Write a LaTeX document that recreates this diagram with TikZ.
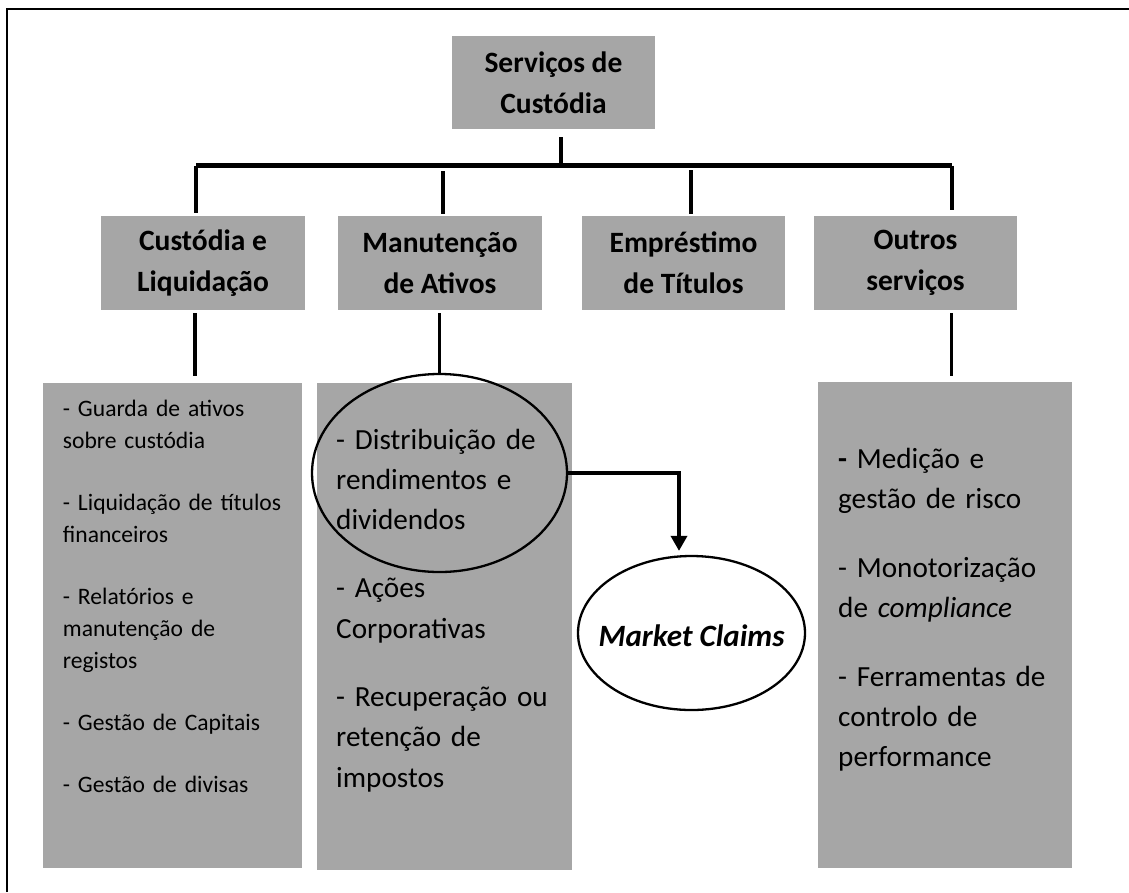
\documentclass[tikz,border=0pt]{standalone}
\usepackage{fontspec}
\setmainfont{Carlito}
\usetikzlibrary{arrows.meta,shapes.geometric}
\definecolor{boxgray}{HTML}{A6A6A6}
\begin{document}
\begin{tikzpicture}[x=1pt,y=-1pt,
  head/.style={fill=boxgray, minimum width=204pt, minimum height=94pt, inner sep=0pt,
    align=center, font=\fontsize{29.5}{41}\selectfont\bfseries},
  panel/.style={fill=boxgray, inner sep=0pt, anchor=north west},
  smalltext/.style={anchor=base west, inner sep=0pt, text width=250pt, align=left,
    font=\fontsize{23.6}{32}\selectfont},
  largetext/.style={anchor=base west, inner sep=0pt, text width=250pt, align=left,
    font=\fontsize{29.2}{40.3}\selectfont},
  link/.style={line width=3.5pt},
  bar/.style={line width=4.5pt},
  oval/.style={draw, ellipse, line width=2.3pt, inner sep=0pt},
]
\useasboundingbox (0,0) rectangle (1129,892);

% page frame (left and top rules)
\draw[line width=2pt] (7,892) -- (7,9) -- (1129,9);

% root and the four service groups
\node[head, minimum width=203pt, minimum height=93pt] (root) at (553.5,82.5) {Serviços de\\Custódia};
\node[head] (h1) at (203,263) {Custódia e\\Liquidação};
\node[head] (h2) at (440,263) {Manutenção\\de Ativos};
\node[head, minimum width=203pt] (h3) at (683.5,263) {Empréstimo\\de Títulos};
\node[head, minimum width=203pt] (h4) at (915.5,263) {Outros\\serviços};

% tree connectors
\coordinate (hub) at (561,165.5);
\coordinate (barL) at (196,165.5);
\coordinate (barR) at (952,165.5);
\coordinate (d2) at (443,171);
\coordinate (d3) at (691,170);
\draw[link] ([yshift=-8pt]root.south -| hub) -- (hub);
\draw[bar] (barL) -- (barR);
\draw[link] (barL) -- ([yshift=3pt]h1.north -| barL);
\draw[link] (d2) -- ([yshift=2pt]h2.north -| d2);
\draw[link] (d3) -- ([yshift=2pt]h3.north -| d3);
\draw[link] (barR) -- ([yshift=6pt]h4.north -| barR);

% detail panels
\node[panel, minimum width=259pt, minimum height=485.5pt] (p1) at (43,382.5) {};
\node[panel, minimum width=255pt, minimum height=486.5pt] (p2) at (317,383) {};
\node[panel, minimum width=254pt, minimum height=486.5pt] (p4) at (818,381.5) {};

\coordinate (l1) at (195,376);
\coordinate (l4) at (951.5,376);
\draw[link] ([yshift=-3pt]h1.south -| l1) -- (l1);
\draw[link] ([yshift=-3pt]h4.south -| l4) -- (l4);

% panel texts
\node[smalltext] (t1) at (62.7,416) {- Guarda de ativos\\sobre custódia\\[30pt]- Liquidação de títulos\\financeiros\\[30pt]- Relatórios e\\manutenção de\\registos\\[30pt]- Gestão de Capitais\\[30pt]- Gestão de divisas};
\node[largetext] (t2) at (336,449) {- Distribuição de\\rendimentos e\\dividendos\\[28pt]- Ações\\Corporativas\\[28pt]- Recuperação ou\\retenção de\\impostos};
\node[largetext] (t4) at (838,468) {\textbf{-} Medição e\\gestão de risco\\[28.5pt]- Monotorização\\de \textit{compliance}\\[28.5pt]- Ferramentas de\\controlo de\\performance};

% highlighted item and market claims
\node[oval, minimum width=255pt, minimum height=198pt] (dist) at (439.5,473) {};
\draw[link] ([yshift=-3pt]h2.south -| dist.north) -- (dist.north);
\node[oval, fill=white, minimum width=227pt, minimum height=154pt,
  label={[font=\fontsize{31}{37}\selectfont\bfseries\itshape, inner sep=0pt, yshift=-3pt]center:Market Claims}] (claims) at (691.5,633) {};
\draw[link, -{Triangle[width=16pt,length=15pt]}] (dist.east) -| ([xshift=-12.5pt,yshift=4pt]claims.north);
\end{tikzpicture}
\end{document}
